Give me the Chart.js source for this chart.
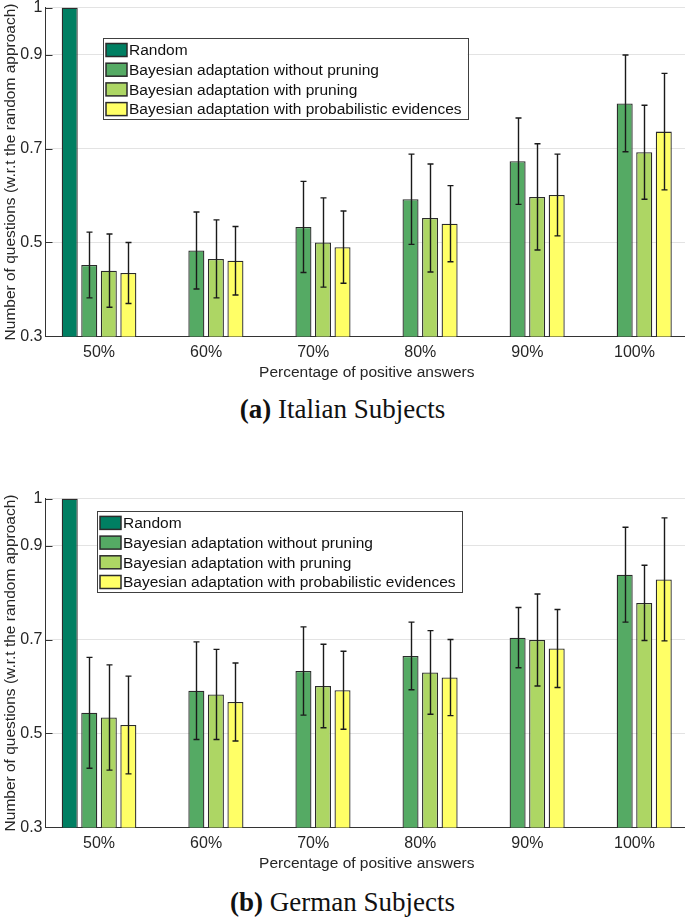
<!DOCTYPE html>
<html>
<head>
<meta charset="utf-8">
<title>Number of questions w.r.t the random approach</title>
<script src="https://cdn.jsdelivr.net/npm/chart.js@4.4.0/dist/chart.umd.min.js"></script>
<style>
  html, body {
    margin: 0;
    padding: 0;
    background: #FFFFFF;
  }
  body {
    position: relative;
    width: 685px;
    height: 918px;
    overflow: hidden;
  }
  .panel {
    position: absolute;
    left: 0;
    width: 688px;
    height: 387px;
  }
  .caption {
    position: absolute;
    left: 0;
    width: 685px;
    text-align: center;
    font-family: 'Liberation Serif', 'Times New Roman', serif;
    font-size: 27px;
    line-height: 30px;
    color: #111111;
  }
</style>
</head>
<body>

<div class="panel" style="top: -5.5px;"><canvas id="chart-italian" width="688" height="387"></canvas></div>
<div class="caption" style="top: 394px;"><b>(a)</b> Italian Subjects</div>

<div class="panel" style="top: 485.5px;"><canvas id="chart-german" width="688" height="387"></canvas></div>
<div class="caption" style="top: 887px;"><b>(b)</b> German Subjects</div>

<script>
// categories / tick labels
const categories = ['50%', '60%', '70%', '80%', '90%', '100%'];
const yTicks = [0.3, 0.5, 0.7, 0.9, 1];
const seriesLabels = [
  'Random',
  'Bayesian adaptation without pruning',
  'Bayesian adaptation with pruning',
  'Bayesian adaptation with probabilistic evidences'
];

// (a) Italian subjects
const italianRandom = [1, null, null, null, null, null];
const italianNoPruning = [0.452, 0.483, 0.533, 0.592, 0.673, 0.796];
const italianPruning = [0.440, 0.465, 0.500, 0.552, 0.597, 0.692];
const italianProbabilistic = [0.435, 0.461, 0.490, 0.540, 0.601, 0.736];
const italianNoPruningErr = [0.070, 0.082, 0.097, 0.096, 0.092, 0.103];
const italianPruningErr = [0.078, 0.083, 0.095, 0.115, 0.113, 0.100];
const italianProbabilisticErr = [0.065, 0.073, 0.077, 0.081, 0.087, 0.124];

// (b) German subjects
const germanRandom = [1, null, null, null, null, null];
const germanNoPruning = [0.544, 0.591, 0.633, 0.665, 0.704, 0.838];
const germanPruning = [0.534, 0.583, 0.601, 0.630, 0.699, 0.778];
const germanProbabilistic = [0.518, 0.567, 0.592, 0.619, 0.681, 0.828];
const germanNoPruningErr = [0.118, 0.104, 0.094, 0.072, 0.064, 0.101];
const germanPruningErr = [0.112, 0.096, 0.089, 0.089, 0.098, 0.080];
const germanProbabilisticErr = [0.104, 0.083, 0.083, 0.081, 0.083, 0.131];

document.addEventListener('DOMContentLoaded', () => {

  /* ========================================================
     1. SHARED LOOK
     ======================================================== */
  const FONT_FAMILY = "'Liberation Sans', Arial, Helvetica, sans-serif";
  const FONT_SIZE = 15.5;
  const TEXT_COLOR = '#262626';
  const AXIS_COLOR = '#333333';

  const seriesColors = [
    '#007F62', // Random - dark teal
    '#55AA64', // without pruning - green
    '#ADD664', // with pruning - light green
    '#FFFF66'  // probabilistic evidences - yellow
  ];

  /* ========================================================
     2. PLUGINS: ERROR BARS, INWARD TICKS, BOXED LEGEND
     ======================================================== */
  const errorBarPlugin = {
    id: 'errorBars',
    afterDatasetsDraw(chart) {
      const ctx = chart.ctx;
      const yScale = chart.scales.y;
      ctx.save();
      ctx.strokeStyle = '#1A1A1A';
      ctx.lineWidth = 1.4;
      chart.data.datasets.forEach((ds, di) => {
        if (!ds.errors) return;
        const meta = chart.getDatasetMeta(di);
        meta.data.forEach((bar, i) => {
          const v = ds.data[i];
          const e = ds.errors[i];
          if (v == null || e == null) return;
          const x = Math.round(bar.x) + 0.5;
          const yTop = yScale.getPixelForValue(v + e);
          const yBot = yScale.getPixelForValue(v - e);
          ctx.beginPath();
          ctx.moveTo(x, yTop);
          ctx.lineTo(x, yBot);
          ctx.moveTo(x - 3, yTop);
          ctx.lineTo(x + 3, yTop);
          ctx.moveTo(x - 3, yBot);
          ctx.lineTo(x + 3, yBot);
          ctx.stroke();
        });
      });
      ctx.restore();
    }
  };

  const inwardTickPlugin = {
    id: 'inwardTicks',
    afterDraw(chart) {
      const ctx = chart.ctx;
      const area = chart.chartArea;
      const yScale = chart.scales.y;
      ctx.save();
      ctx.strokeStyle = AXIS_COLOR;
      ctx.lineWidth = 1;
      yTicks.forEach(t => {
        const y = Math.round(yScale.getPixelForValue(t)) + 0.5;
        ctx.beginPath();
        ctx.moveTo(area.left, y);
        ctx.lineTo(area.left + 7, y);
        ctx.stroke();
      });
      ctx.restore();
    }
  };

  const boxLegendPlugin = {
    id: 'boxLegend',
    afterDraw(chart, args, opts) {
      const ctx = chart.ctx;
      const area = chart.chartArea;
      const left = area.left + opts.left;
      const top = area.top + opts.top;
      const rowH = 19.7;

      ctx.save();
      ctx.font = `${FONT_SIZE}px ${FONT_FAMILY}`;
      const labels = chart.data.datasets.map(ds => ds.label);
      const textW = Math.max(...labels.map(l => ctx.measureText(l).width));
      const boxW = 26 + textW + 6;
      const boxH = rowH * labels.length + 2;

      ctx.fillStyle = '#FFFFFF';
      ctx.fillRect(left, top, boxW, boxH);
      ctx.strokeStyle = '#404040';
      ctx.lineWidth = 1;
      ctx.strokeRect(Math.round(left) + 0.5, Math.round(top) + 0.5, Math.round(boxW), Math.round(boxH));

      chart.data.datasets.forEach((ds, i) => {
        const cy = top + 12 + i * rowH;
        ctx.fillStyle = ds.backgroundColor;
        ctx.fillRect(left + 3, cy - 6.5, 21, 13);
        ctx.strokeStyle = '#2B2B2B';
        ctx.lineWidth = 1.5;
        ctx.strokeRect(left + 3, cy - 6.5, 21, 13);
        ctx.fillStyle = '#111111';
        ctx.textBaseline = 'middle';
        ctx.textAlign = 'left';
        ctx.fillText(ds.label, left + 26, cy + 1);
      });
      ctx.restore();
    }
  };

  /* ========================================================
     3. BUILD ONE PANEL
     ======================================================== */
  function buildPanel(canvasId, series, errors, legendPos) {
    const canvasEl = document.getElementById(canvasId);
    if (!canvasEl || !window.Chart) return null;

    const datasets = series.map((values, i) => ({
      label: seriesLabels[i],
      data: values,
      errors: errors[i],
      backgroundColor: seriesColors[i],
      borderColor: '#2B2B2B',
      borderWidth: 1.3,
      categoryPercentage: 0.73,
      barPercentage: 0.82
    }));

    const tickFont = { family: FONT_FAMILY, size: 16 };
    const xTickFont = { family: FONT_FAMILY, size: 16, lineHeight: 1.0 };
    const titleFont = { family: FONT_FAMILY, size: FONT_SIZE };

    return new Chart(canvasEl.getContext('2d'), {
      type: 'bar',
      data: { labels: categories, datasets: datasets },
      plugins: [errorBarPlugin, inwardTickPlugin, boxLegendPlugin],
      options: {
        responsive: false,
        animation: false,
        layout: { padding: { top: 0, right: 0, bottom: 0, left: 0 } },
        plugins: {
          legend: { display: false },
          tooltip: { enabled: false },
          boxLegend: legendPos
        },
        scales: {
          x: {
            grid: { display: false, drawTicks: false },
            border: { display: true, color: AXIS_COLOR, width: 1 },
            ticks: { font: xTickFont, color: TEXT_COLOR, padding: 8, maxRotation: 0 },
            title: {
              display: true,
              text: 'Percentage of positive answers',
              font: titleFont,
              color: TEXT_COLOR,
              padding: { top: -5, bottom: 0 }
            }
          },
          y: {
            min: 0.3,
            max: 1,
            afterBuildTicks: scale => {
              scale.ticks = yTicks.map(v => ({ value: v }));
            },
            afterFit: scale => {
              scale.width = 45.5;
            },
            grid: { color: '#E3E3E3', lineWidth: 1, drawTicks: false },
            border: { display: true, color: AXIS_COLOR, width: 1 },
            ticks: {
              font: tickFont,
              color: TEXT_COLOR,
              padding: 3,
              callback: v => (v === 1 ? '1' : v.toFixed(1))
            },
            title: {
              display: true,
              text: 'Number of questions (w.r.t the random approach)',
              font: titleFont,
              color: TEXT_COLOR,
              padding: { top: 1, bottom: 0 }
            }
          }
        }
      }
    });
  }

  buildPanel(
    'chart-italian',
    [italianRandom, italianNoPruning, italianPruning, italianProbabilistic],
    [null, italianNoPruningErr, italianPruningErr, italianProbabilisticErr],
    { left: 57.5, top: 30.4 }
  );

  buildPanel(
    'chart-german',
    [germanRandom, germanNoPruning, germanPruning, germanProbabilistic],
    [null, germanNoPruningErr, germanPruningErr, germanProbabilisticErr],
    { left: 51.5, top: 12.3 }
  );

});
</script>
</body>
</html>
